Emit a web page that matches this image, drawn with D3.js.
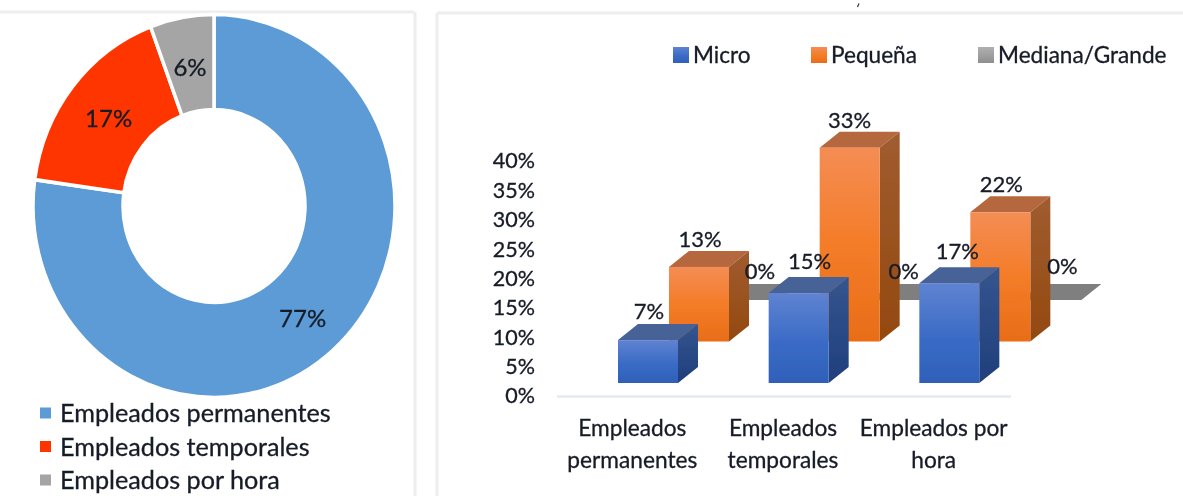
<!DOCTYPE html>
<html><head><meta charset="utf-8">
<script src="https://cdn.jsdelivr.net/npm/d3@7"></script>
<style>html,body{margin:0;padding:0;background:#fff;overflow:hidden}svg{display:block}text{font-family:Lato,"Open Sans",sans-serif;fill:#161b28;stroke:#161b28;stroke-width:.3}</style>
</head><body><svg id="c" width="1183" height="496"></svg>
<script>
const donutLabels=["Empleados permanentes","Empleados temporales","Empleados por hora"];
const donutValues=[77.2,17.1,5.7];
const donutColors=["#5b9bd5","#ff3600","#a5a5a5"];
const categories=["Empleados permanentes","Empleados temporales","Empleados por hora"];
const categoryLines=[["Empleados","permanentes"],["Empleados","temporales"],["Empleados por","hora"]];
const seriesNames=["Micro","Pequeña","Mediana/Grande"];
const micro=[7.3,15.3,17];
const pequena=[12.7,33,22];
const medianaGrande=[0,0,0];
const yTicks=[0,5,10,15,20,25,30,35,40];

const svg=d3.select("#c");
const defs=svg.append("defs");
function grad(id,stops){const g=defs.append("linearGradient").attr("id",id).attr("x1",0).attr("y1",0).attr("x2",0).attr("y2",1);
 stops.forEach(s=>g.append("stop").attr("offset",s[0]).attr("stop-color",s[1]));}
grad("gB",[[0,"#5f83d1"],[.55,"#3a6bc6"],[1,"#2f60b8"]]);
grad("gO",[[0,"#f48d54"],[.5,"#f47c28"],[1,"#e96d18"]]);
grad("gG",[[0,"#b0b0b0"],[1,"#8f8f8f"]]);
grad("sB",[[0,"#34558f"],[1,"#1f3f7c"]]);
grad("sO",[[0,"#a05c30"],[1,"#94490f"]]);
const blur=defs.append("filter").attr("id","soft").attr("x","-5%").attr("y","-5%").attr("width","110%").attr("height","110%");
blur.append("feGaussianBlur").attr("stdDeviation",0.45);

const root=svg.append("g").attr("filter","url(#soft)");

// panel frames
[[0,12,414,12],[415,12,415,496],[437,13,1183,13],[437,13,437,496]].forEach(l=>
 root.append("line").attr("x1",l[0]).attr("y1",l[1]).attr("x2",l[2]).attr("y2",l[3]).attr("stroke","#eeeeee").attr("stroke-width",3));
root.append("path").attr("d","M857.5 7 L859 3.5").attr("stroke","#333").attr("stroke-width",1.2);

// donut
const pie=d3.pie().sort(null).value(d=>d)(donutValues);
const arc=d3.arc().innerRadius(91).outerRadius(181);
const dg=root.append("g").attr("transform","translate(214,206) scale(1,1.058)");
dg.selectAll("path").data(pie).join("path").attr("d",arc)
 .attr("fill",(d,i)=>donutColors[i]).attr("stroke","#fff").attr("stroke-width",3.5);
const lg=root.append("g").attr("transform","translate(214,206)");
const labelArc=d3.arc().innerRadius(135).outerRadius(135);
const fmt=d3.format(".0f");
lg.selectAll("text").data(pie).join("text")
 .attr("transform",d=>{const c=labelArc.centroid(d);return `translate(${c[0]},${c[1]*1.07+3})`;})
 .attr("text-anchor","middle").attr("dy",".36em").attr("font-size",24).text(d=>fmt(d.data)+"%");
const dl=root.append("g").selectAll("g").data(donutLabels).join("g")
 .attr("transform",(d,i)=>`translate(40,${413+i*33.5})`);
dl.append("rect").attr("y",-5.5).attr("width",11).attr("height",11).attr("fill",(d,i)=>donutColors[i]);
dl.append("text").attr("x",20).attr("dy",".36em").attr("font-size",25.2).text(d=>d);

// 3D bars
const y=d3.scaleLinear().domain([0,40]).range([396,161]);
const xCat=d3.scaleBand().domain(categories).range([557,1009]);
const seriesPos=d3.scaleLinear().domain([0,2]).range([61,163]);
const seriesLift=d3.scaleLinear().domain([0,2]).range([13,96]);
const barW=60,depthX=20,depthY=16;
const fmtPct=d3.format(".0f");

root.append("g").call(g=>{
 const ax=d3.axisLeft(y).tickValues(yTicks).tickFormat(d=>d+"%").tickSize(0).tickPadding(0);
 g.attr("transform","translate(535,0)").call(ax);
 g.select(".domain").remove();
 g.selectAll("text").attr("font-size",21.5).attr("font-family","Lato");
});
root.append("line").attr("x1",557).attr("x2",1011).attr("y1",396.5).attr("y2",396.5).attr("stroke","#e6eaef").attr("stroke-width",2.5);

const series=[
 {vals:medianaGrande,idx:2,front:"url(#gG)",side:"#7f7f7f",top:"#7f7f7f",nudge:[[0,0],[-7,0],[1,-5]]},
 {vals:pequena,idx:1,front:"url(#gO)",side:"url(#sO)",top:"#b5673d",nudge:[[-9,1],[-10,1],[-9,1]]},
 {vals:micro,idx:0,front:"url(#gB)",side:"url(#sB)",top:"#476296",nudge:[[-9,0],[1,-3],[-2,-3]]}];
const labels=[];
series.forEach(s=>{
 const g=root.append("g");
 categories.forEach((c,j)=>{
  const x0=xCat(c)+seriesPos(s.idx),lift=seriesLift(s.idx);
  const yt=y(s.vals[j])-lift,yb=y(0)-lift,x1=x0+barW;
  g.append("path").attr("fill",s.top).attr("d",`M${x0} ${yt}L${x0+depthX} ${yt-depthY}L${x1+depthX} ${yt-depthY}L${x1} ${yt}Z`);
  if(s.vals[j]>0){
   g.append("path").attr("fill",s.side).attr("d",`M${x1} ${yt}L${x1+depthX} ${yt-depthY}L${x1+depthX} ${yb-depthY}L${x1} ${yb}Z`);
   g.append("rect").attr("x",x0).attr("y",yt).attr("width",barW).attr("height",yb-yt).attr("fill",s.front);
  }
  labels.push({x:x0+barW/2+depthX/2+s.nudge[j][0],y:yt-29+s.nudge[j][1],t:fmtPct(s.vals[j])+"%"});
 });
});
root.append("g").selectAll("text").data(labels).join("text")
 .attr("x",d=>d.x).attr("y",d=>d.y).attr("dy",".36em").attr("text-anchor","middle").attr("font-size",22).text(d=>d.t);

// category labels
categories.forEach((c,i)=>{
 const t=root.append("text").attr("text-anchor","middle").attr("font-size",22.7);
 categoryLines[i].forEach((ln,k)=>t.append("tspan").attr("x",xCat(c)+xCat.bandwidth()/2).attr("y",436+k*32).text(ln));
});

// series legend
const legendX=d3.scaleOrdinal().domain(seriesNames).range([673,811,978]);
const legendFill={"Micro":"url(#gB)","Pequeña":"url(#gO)","Mediana/Grande":"url(#gG)"};
const sl=root.append("g").selectAll("g").data(seriesNames).join("g").attr("transform",d=>`translate(${legendX(d)},55)`);
sl.append("rect").attr("y",-8).attr("width",16).attr("height",16).attr("fill",d=>legendFill[d]);
sl.append("text").attr("x",20).attr("dy",".36em").attr("font-size",22.6).text(d=>d);
</script></body></html>
